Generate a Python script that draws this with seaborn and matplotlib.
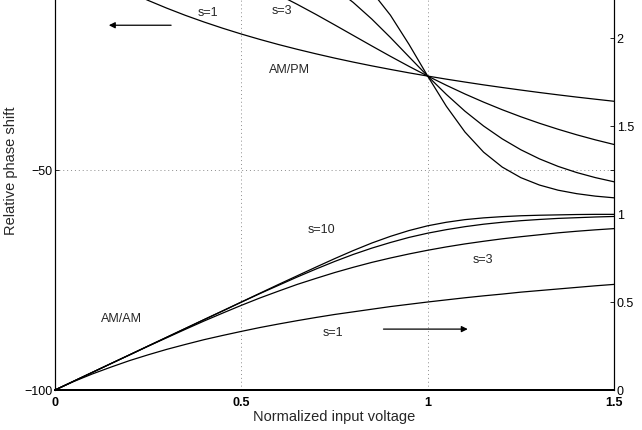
import matplotlib
matplotlib.use("Agg")
import matplotlib.pyplot as plt
import seaborn as sns

# normalized input voltage (sample grid)
voltage = [0, 0.05, 0.1, 0.15, 0.2, 0.25, 0.3, 0.35, 0.4, 0.45, 0.5,
           0.55, 0.6, 0.65, 0.7, 0.75, 0.8, 0.85, 0.9, 0.95, 1.0,
           1.05, 1.1, 1.15, 1.2, 1.25, 1.3, 1.35, 1.4, 1.45, 1.5]

# AM/PM: relative phase shift (left axis)
phase_s1 = [0, -2.73, -5.21, -7.47, -9.55, -11.46, -13.22, -14.86, -16.37, -17.78, -19.10,
            -20.33, -21.49, -22.57, -23.59, -24.56, -25.47, -26.33, -27.14, -27.92, -28.65,
            -29.35, -30.01, -30.65, -31.25, -31.83, -32.39, -32.92, -33.43, -33.91, -34.38]
phase_s3 = [0, -0.01, -0.06, -0.19, -0.45, -0.88, -1.51, -2.36, -3.45, -4.79, -6.37,
            -8.17, -10.18, -12.35, -14.63, -17.00, -19.40, -21.80, -24.16, -26.45, -28.65,
            -30.74, -32.72, -34.57, -36.30, -37.90, -39.38, -40.74, -42.00, -43.15, -44.20]
phase_s6 = [0, 0, 0, 0, 0, -0.01, -0.04, -0.11, -0.23, -0.47, -0.88,
            -1.54, -2.55, -4.02, -6.03, -8.66, -11.90, -15.69, -19.88, -24.28, -28.65,
            -32.81, -36.63, -40.00, -42.92, -45.40, -47.47, -49.18, -50.58, -51.73, -52.68]
phase_s10 = [0, 0, 0, 0, 0, 0, 0, 0, -0.01, -0.02, -0.06,
             -0.14, -0.34, -0.76, -1.57, -3.05, -5.56, -9.43, -14.81, -21.46, -28.65,
             -35.50, -41.36, -45.94, -49.33, -51.74, -53.42, -54.59, -55.38, -55.94, -56.32]

# AM/AM: output amplitude (right axis)
amp_s1 = [0, 0.048, 0.091, 0.130, 0.167, 0.200, 0.231, 0.259, 0.286, 0.310, 0.333,
          0.355, 0.375, 0.394, 0.412, 0.429, 0.444, 0.459, 0.474, 0.487, 0.500,
          0.512, 0.524, 0.535, 0.545, 0.556, 0.565, 0.574, 0.583, 0.592, 0.600]
amp_s3 = [0, 0.050, 0.100, 0.150, 0.199, 0.249, 0.297, 0.345, 0.392, 0.437, 0.481,
          0.523, 0.562, 0.600, 0.634, 0.667, 0.697, 0.725, 0.750, 0.773, 0.794,
          0.813, 0.830, 0.845, 0.859, 0.871, 0.882, 0.893, 0.902, 0.910, 0.917]
amp_s6 = [0, 0.050, 0.100, 0.150, 0.200, 0.250, 0.300, 0.350, 0.400, 0.449, 0.499,
          0.548, 0.595, 0.642, 0.687, 0.730, 0.770, 0.806, 0.838, 0.867, 0.891,
          0.911, 0.928, 0.942, 0.953, 0.962, 0.969, 0.975, 0.979, 0.983, 0.986]
amp_s10 = [0, 0.050, 0.100, 0.150, 0.200, 0.250, 0.300, 0.350, 0.400, 0.450, 0.500,
           0.550, 0.600, 0.649, 0.698, 0.746, 0.792, 0.835, 0.873, 0.906, 0.933,
           0.953, 0.968, 0.978, 0.985, 0.990, 0.993, 0.995, 0.997, 0.998, 0.998]

x_ticks = [0, 0.5, 1, 1.5]
x_ticklabels = ["0", "0.5", "1", "1.5"]
left_ticks = [-100, -50]
right_ticks = [0, 0.5, 1, 1.5, 2]
right_ticklabels = ["0", "0.5", "1", "1.5", "2"]

sns.set_style("white")
plt.rcParams["font.family"] = ["Liberation Sans", "DejaVu Sans"]
plt.rcParams["axes.unicode_minus"] = True

fig = plt.figure(figsize=(6.42, 4.31), dpi=100)
# axes reach above the top edge: the reference is cropped there
ax = fig.add_axes([55 / 642, 40 / 431, 559 / 642, 440 / 431])
ax2 = ax.twinx()

for ph in [phase_s1, phase_s3, phase_s6, phase_s10]:
    sns.lineplot(x=voltage, y=ph, ax=ax, color="black", linewidth=0.9)
for am in [amp_s1, amp_s3, amp_s6, amp_s10]:
    sns.lineplot(x=voltage, y=am, ax=ax2, color="black", linewidth=0.9)

ax.set_xlim(0, 1.5)
ax.set_ylim(-100, 0)
ax2.set_ylim(0, 2.5)

ax.set_xticks(x_ticks)
ax.set_xticklabels(x_ticklabels, fontweight="bold")
ax.set_yticks(left_ticks)
ax2.set_yticks(right_ticks)
ax2.set_yticklabels(right_ticklabels)

ax.grid(True, color="#8c8c8c", linestyle=(0, (1, 3)), linewidth=0.7)
ax2.grid(False)

ax.tick_params(direction="in", length=3, width=0.6, labelsize=9, pad=2,
               top=True, right=True, colors="black")
ax.tick_params(axis="x", pad=4)
ax2.tick_params(direction="in", length=3, width=0.6, labelsize=9, pad=2, colors="black")

for a in (ax, ax2):
    for side in ["left", "right", "top"]:
        a.spines[side].set_linewidth(0.8)
        a.spines[side].set_color("black")
    a.spines["bottom"].set_linewidth(1.4)
    a.spines["bottom"].set_color("black")

ax.set_xlabel("Normalized input voltage", fontsize=10.5, labelpad=1)
ax.set_ylabel("Relative phase shift", fontsize=10.5)
ax.yaxis.set_label_coords(-0.066, 0.5)

# AM/PM annotations (left axis)
ax.text(0.41, -14.0, "s=1", fontsize=9, ha="center", va="center")
ax.text(0.608, -13.7, "s=3", fontsize=9, ha="center", va="center")
ax.text(0.63, -27.0, "AM/PM", fontsize=9, ha="center", va="center")
ax.annotate("", xy=(0.137, -17.1), xytext=(0.319, -17.1),
            arrowprops=dict(arrowstyle="-|>", color="black", lw=0.9, mutation_scale=9))

# AM/AM annotations (right axis)
ax2.text(0.714, 0.914, "s=10", fontsize=9, ha="center", va="center")
ax2.text(1.148, 0.747, "s=3", fontsize=9, ha="center", va="center")
ax2.text(0.178, 0.41, "AM/AM", fontsize=9, ha="center", va="center")
ax2.text(0.747, 0.327, "s=1", fontsize=9, ha="center", va="center")
ax2.annotate("", xy=(1.115, 0.346), xytext=(0.874, 0.346),
             arrowprops=dict(arrowstyle="-|>", color="black", lw=0.9, mutation_scale=9))

fig.savefig("out.png", dpi=100)
